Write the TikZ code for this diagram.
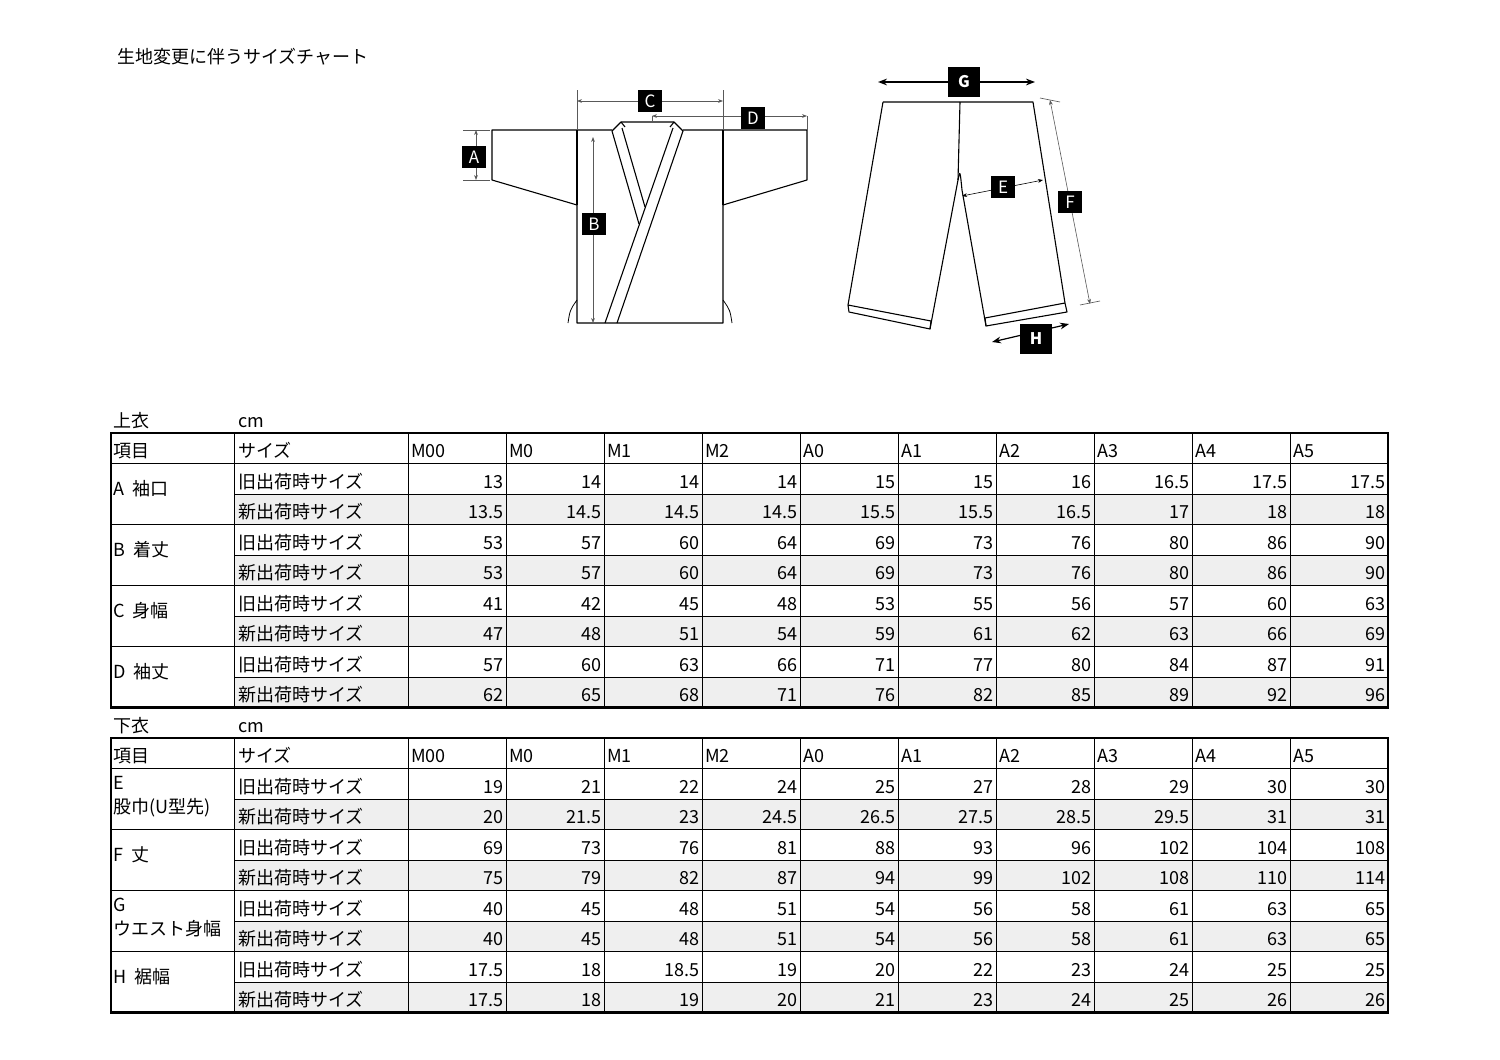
\documentclass[tikz,border=0pt]{standalone}
\usepackage{fontspec}
\setmainfont{Noto Sans CJK JP}
\usetikzlibrary{arrows.meta}
\definecolor{cellgrey}{HTML}{EFEFEF}
\tikzset{
 lbl/.style={fill=black,text=white,inner sep=0pt,minimum width=24pt,minimum height=22pt,font=\fontsize{17}{17}\selectfont},
 lblb/.style={lbl,minimum width=32pt,minimum height=30pt,font=\bfseries\fontsize{16}{16}\selectfont},
 outline/.style={line width=1.1pt,line join=round},
 dim/.style={line width=0.6pt,gray!70!black},
 dimar/.style={dim,{Stealth[length=5pt]}-{Stealth[length=5pt]}},
 bigar/.style={line width=1.6pt,{Stealth[length=9pt]}-{Stealth[length=9pt]}},
 tx/.style={font=\fontsize{18}{20}\selectfont,inner sep=0pt},
 num/.style={tx,anchor=base east},
 hd/.style={tx,anchor=base west},
}
\newcommand\mytable[3]{%
 \pgfmathsetmacro\tt{#1}
 \pgfmathsetmacro\hb{#1+30.5}
 \pgfmathsetmacro\tb{#1+30.5+244}
 \foreach \lab/\labb/\old/\new [count=\g] in {#2}{
   \pgfmathsetmacro\ra{\hb+(\g-1)*61}
   \pgfmathsetmacro\rb{\ra+30.5}
   \pgfmathsetmacro\rc{\ra+61}
   \fill[cellgrey] (234,\rb) rectangle (1388,\rc);
   \draw[line width=0.8pt] (234,\rb) -- (1388,\rb);
   \draw[line width=0.8pt] (111,\rc) -- (1388,\rc);
   \node[hd] at (238,\rb-6) {旧出荷時サイズ};
   \node[hd] at (238,\rc-6) {新出荷時サイズ};
   \foreach \v [count=\i] in \old {\node[num] at (406+\i*98,\rb-6) {\v};}
   \foreach \v [count=\i] in \new {\node[num] at (406+\i*98,\rc-6) {\v};}
   \ifx\labb\empty
     \node[hd] at (113,\rb+1) {\lab};
   \else
     \node[hd] at (113,\rb-10) {\lab};
     \node[hd] at (113,\rb+14) {\labb};
   \fi
 }
 \draw[line width=0.8pt] (111,\hb) -- (1388,\hb);
 \draw[line width=0.8pt] (234,\tt) -- (234,\tb);
 \foreach \c in {0,...,9}{\draw[line width=0.8pt] (408+\c*98,\tt) -- (408+\c*98,\tb);}
 \node[hd] at (113,\hb-6) {項目};
 \node[hd] at (238,\hb-6) {サイズ};
 \foreach \h [count=\i from 0] in {M00,M0,M1,M2,A0,A1,A2,A3,A4,A5}{\node[hd] at (411+\i*98,\hb-6) {\h};}
 \draw[line width=2.4pt] (111,\tt) rectangle (1388,\tb);
 \node[hd] at (113,\tt-6) {#3};
 \node[hd] at (238,\tt-6) {cm};
}
\begin{document}
\begin{tikzpicture}[x=1pt,y=-1pt]
\useasboundingbox (0,0) rectangle (1500,1060);
\fill[white] (0,0) rectangle (1500,1060);
\node[hd] (title) at (117,63) {生地変更に伴うサイズチャート};
% ---------- jacket
\draw[outline] (577,130) -- (612,130) (683,130) -- (807,130) -- (807,180) -- (723,205) -- (723,323) -- (577,323) -- (577,205) -- (492,180) -- (492,130) -- (577,130);
\draw[outline] (577,130) -- (577,205);
\draw[outline] (723,130) -- (723,205);
\draw[outline] (612,131) -- (621,122) -- (674,122) -- (683,131) -- (617,323);
\draw[outline] (612,131) -- (639,224);
\draw[outline] (622,128) -- (645,207);
\draw[outline] (673,128) -- (605,323);
\draw[outline] (621,122) -- (625,127);
\draw[outline] (674,122) -- (670,127);
\draw[line width=0.8pt] (577,300) .. controls (570,310) .. (568,323);
\draw[line width=0.8pt] (723,300) .. controls (730,310) .. (732,323);
% dims jacket
\draw[dim] (577,90) -- (577,130) (723,90) -- (723,130);
\coordinate (c1) at (577,101); \coordinate (c2) at (723,101);
\draw[dimar] (c1) -- (c2);
\node[lbl] (C) at (650,101) {C};
\coordinate (d1) at (652,116); \coordinate (d2) at (807,116);
\draw[dimar] (d1) -- (d2);
\draw[dim] (652,116) -- (652,122) (807,116) -- (807,130);
\node[lbl] (D) at (753,118) {D};
\draw[dim] (463,130) -- (490,130) (463,180) -- (490,180);
\coordinate (a1) at (476,130); \coordinate (a2) at (476,180);
\draw[dimar] (a1) -- (a2);
\node[lbl] (A) at (474,157) {A};
\coordinate (b1) at (593,137); \coordinate (b2) at (593,323);
\draw[dimar] (b1) -- (b2);
\node[lbl] (B) at (594,224) {B};
% ---------- pants
\draw[outline] (883,102) -- (1033,102) -- (1065,303) -- (1067,312) -- (986,326) -- (985,318) -- (1065,303);
\draw[outline] (883,102) -- (848,305) -- (849,312) -- (930,329) -- (931,321) -- (848,305);
\draw[outline] (930,329) -- (958,180) -- (960,102);
\draw[outline] (958,180) .. controls (960,170) .. (962,190) -- (986,326);
\coordinate (g1) at (878,82); \coordinate (g2) at (1035,82);
\draw[bigar] (g1) -- (g2);
\node[lblb] (G) at (964,82) {G};
\draw[dim] (1040,98) -- (1060,102) (1080,305) -- (1100,301);
\coordinate (f1) at (1050,100); \coordinate (f2) at (1090,304);
\draw[dimar] (f1) -- (f2);
\node[lbl] (F) at (1070,202) {F};
\coordinate (e1) at (962,196); \coordinate (e2) at (1043,180);
\draw[dimar,black] (e1) -- (e2);
\node[lbl] (E) at (1003,187) {E};
\coordinate (h1) at (992,342); \coordinate (h2) at (1069,324);
\draw[bigar,line width=1.2pt] (h1) -- (h2);
\node[lblb] (H) at (1036,339) {H};
% ---------- tables
\mytable{433}{{A\ \ 袖口}//{13,14,14,14,15,15,16,16.5,17.5,17.5}/{13.5,14.5,14.5,14.5,15.5,15.5,16.5,17,18,18},
{B\ \ 着丈}//{53,57,60,64,69,73,76,80,86,90}/{53,57,60,64,69,73,76,80,86,90},
{C\ \ 身幅}//{41,42,45,48,53,55,56,57,60,63}/{47,48,51,54,59,61,62,63,66,69},
{D\ \ 袖丈}//{57,60,63,66,71,77,80,84,87,91}/{62,65,68,71,76,82,85,89,92,96}}{上衣}
\mytable{738}{{E}/{股巾(U型先)}/{19,21,22,24,25,27,28,29,30,30}/{20,21.5,23,24.5,26.5,27.5,28.5,29.5,31,31},
{F\ \ 丈}//{69,73,76,81,88,93,96,102,104,108}/{75,79,82,87,94,99,102,108,110,114},
{G}/{ウエスト身幅}/{40,45,48,51,54,56,58,61,63,65}/{40,45,48,51,54,56,58,61,63,65},
{H\ \ 裾幅}//{17.5,18,18.5,19,20,22,23,24,25,25}/{17.5,18,19,20,21,23,24,25,26,26}}{下衣}
\end{tikzpicture}
\end{document}
